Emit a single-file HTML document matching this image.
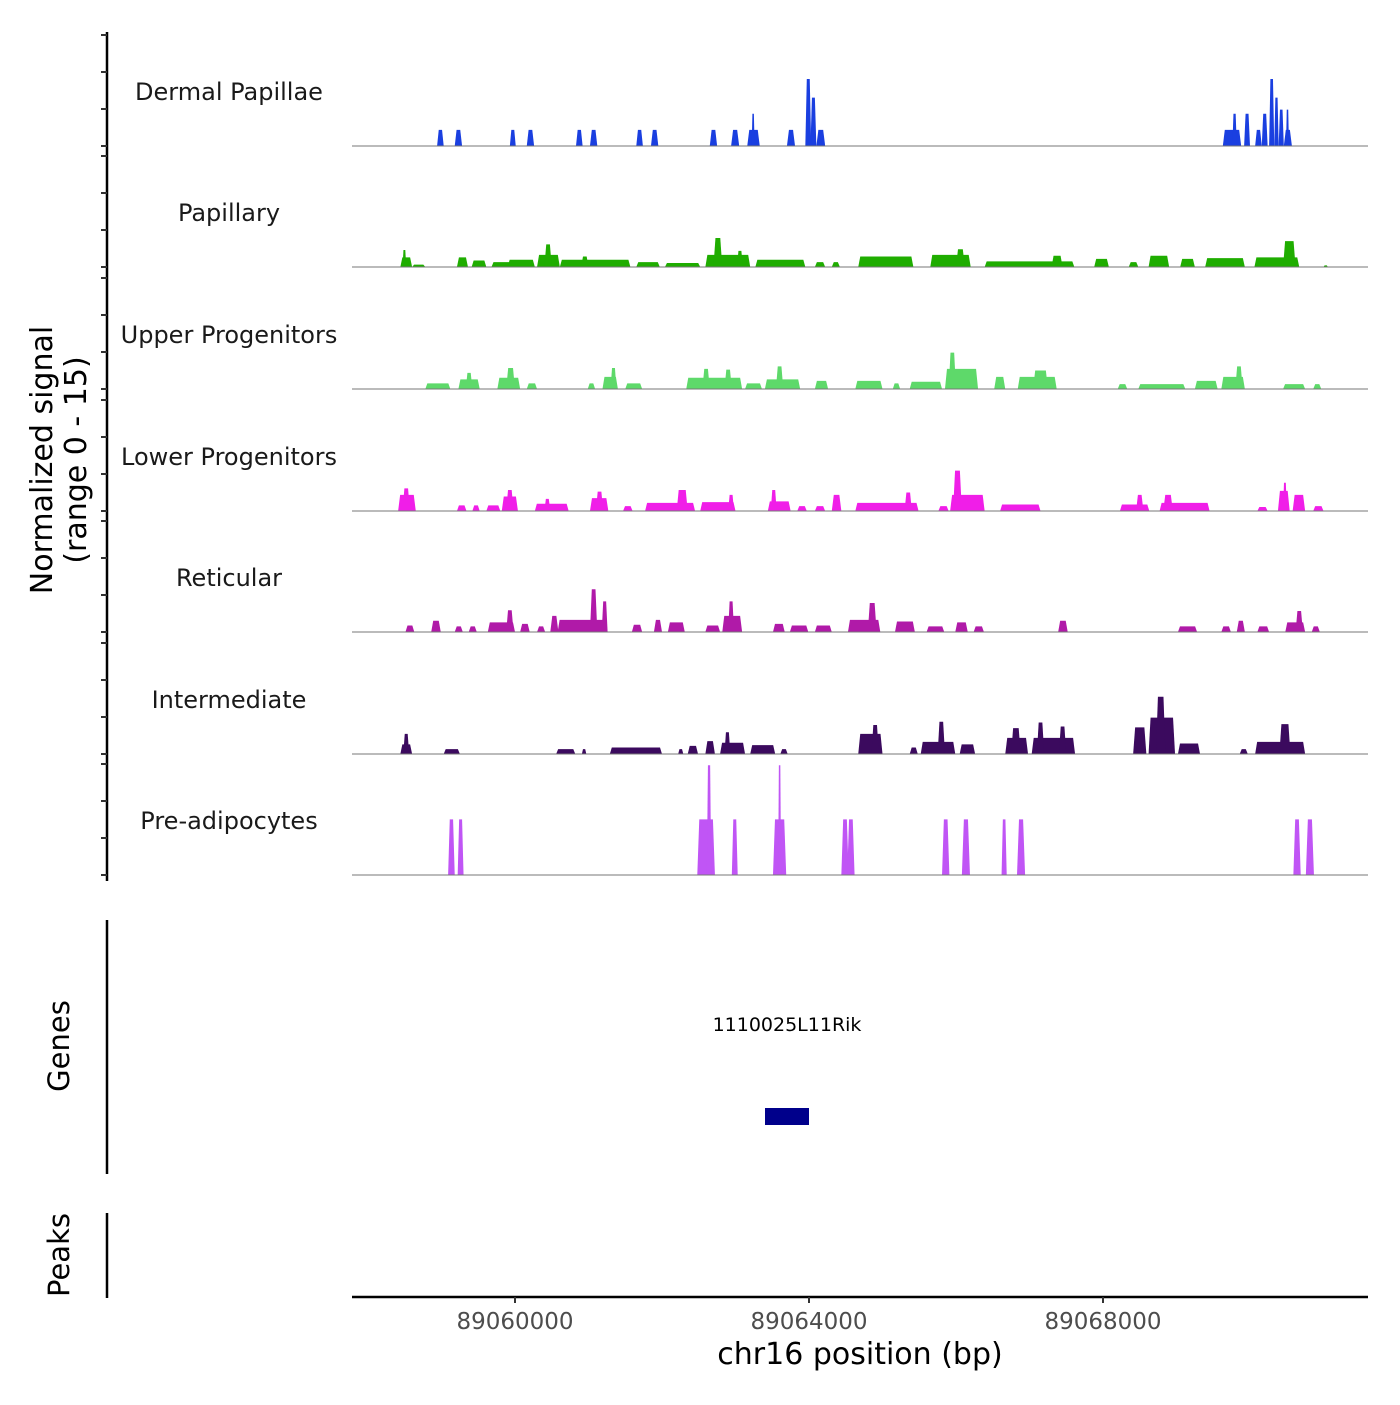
<!DOCTYPE html>
<html><head><meta charset="utf-8"><style>
html,body{margin:0;padding:0;background:#fff;}
svg text{font-family:"DejaVu Sans","Liberation Sans",sans-serif;}
</style></head><body>
<svg id="chart" width="1400" height="1400" viewBox="0 0 1400 1400" xmlns="http://www.w3.org/2000/svg"></svg>
<script>
const trackNames=["Dermal Papillae","Papillary","Upper Progenitors","Lower Progenitors","Reticular","Intermediate","Pre-adipocytes"];
const trackColors=["#1a3fe0","#1fad00","#5ed96a","#f01ee8","#b01aa8","#3b0a5e","#c055f5"];
const xTicks=[60,64,68];
const xTickLabels=["89060000","89064000","89068000"];
// segments per track: start kb, end kb (offset from 89,000,000 bp /1000), height (normalized signal)
const dermalStart=[58.94,59.18,59.93,60.16,60.83,61.02,61.65,61.85,62.65,62.94,63.16,63.22,63.70,63.95,64.02,64.10,69.63,69.76,69.92,70.07,70.16,70.26,70.33,70.39,70.46,70.49];
const dermalEnd=[59.03,59.28,60.01,60.26,60.92,61.12,61.74,61.95,62.75,63.05,63.33,63.26,63.81,64.03,64.10,64.22,69.88,69.82,70.00,70.16,70.24,70.33,70.39,70.46,70.57,70.53];
const dermalVal=[2,2,2,2,2,2,2,2,2,2,2,4,2,8.3,6,2,2,4,4,2,4,8.3,6,4.5,2,4.5];
const papStart=[58.44,58.47,58.60,59.21,59.41,59.68,59.99,59.90,60.30,60.40,60.61,60.90,61.65,62.04,62.59,62.70,63.02,63.27,64.08,64.31,64.67,65.65,66.0,66.39,67.30,67.88,68.35,68.62,69.05,69.39,70.06,70.45,71.0];
const papEnd=[58.60,58.52,58.78,59.36,59.61,59.95,60.14,60.27,60.61,60.50,61.57,61.00,61.97,62.52,63.20,62.82,63.10,63.95,64.22,64.42,65.42,66.20,66.12,67.61,67.45,68.08,68.48,68.90,69.25,69.93,70.67,70.62,71.06];
const papVal=[1.2,2.1,0.3,1.2,0.8,0.6,0.5,0.9,1.5,2.8,0.9,1.3,0.6,0.5,1.5,3.6,2,0.9,0.6,0.6,1.3,1.5,2.2,0.7,1.4,1.0,0.6,1.4,1,1.1,1.2,3.2,0.2];
const upStart=[58.78,59.23,59.33,59.76,59.88,60.16,60.99,61.19,61.30,61.50,62.33,62.55,62.85,63.13,63.40,63.55,64.08,64.63,65.14,65.37,65.85,65.90,66.52,66.84,67.05,68.20,68.48,69.25,69.61,69.80,70.45,70.86];
const upEnd=[59.12,59.52,59.42,60.07,60.00,60.30,61.09,61.40,61.38,61.73,63.09,62.65,62.95,63.36,63.88,63.65,64.26,65.00,65.24,65.81,66.30,66.00,66.67,67.37,67.25,68.33,69.12,69.56,69.93,69.90,70.75,70.97];
const upVal=[0.7,1.2,2,1.4,2.6,0.7,0.7,1.5,2.6,0.7,1.4,2.5,2.4,0.7,1.2,2.8,1.0,1.0,0.7,0.9,2.5,4.5,1.5,1.5,2.3,0.6,0.6,1.0,1.5,2.8,0.6,0.6];
const lowStart=[58.41,58.47,59.21,59.42,59.61,59.82,59.88,60.27,60.40,61.02,61.10,61.47,61.77,62.20,62.52,62.90,63.44,63.48,63.84,64.08,64.31,64.63,65.30,65.76,65.92,65.96,66.60,68.23,68.45,68.77,68.82,70.10,70.38,70.45,70.58,70.86];
const lowEnd=[58.65,58.57,59.34,59.52,59.80,60.04,59.98,60.73,60.48,61.27,61.20,61.60,62.45,62.35,63.00,62.98,63.75,63.56,63.97,64.22,64.44,65.49,65.40,65.90,66.39,66.08,67.15,68.63,68.55,69.45,68.95,70.24,70.54,70.50,70.75,71.0];
const lowVal=[2,2.8,0.7,0.7,0.7,1.8,2.6,0.9,1.5,1.6,2.4,0.6,1,2.6,1.1,2,1.2,2.6,0.6,0.6,2,1.0,2.3,0.6,2,5,0.8,0.8,2,1,2,0.5,2.5,3.5,2,0.6];
const retStart=[58.51,58.86,59.18,59.37,59.63,59.88,60.07,60.30,60.48,60.58,61.02,61.18,61.59,61.89,62.08,62.59,62.82,62.90,63.51,63.74,64.08,64.53,64.80,65.17,65.60,65.99,66.24,67.39,69.02,69.61,69.82,70.10,70.48,70.62,70.84];
const retEnd=[58.63,58.99,59.29,59.48,60.00,59.98,60.20,60.41,60.59,61.22,61.12,61.26,61.73,62.00,62.31,62.79,63.09,62.98,63.67,63.99,64.31,64.97,64.92,65.44,65.84,66.16,66.38,67.52,69.28,69.74,69.93,70.26,70.75,70.72,70.95];
const retVal=[0.8,1.4,0.7,0.7,1.2,2.7,1.0,0.7,2,1.5,5.3,3.8,0.9,1.5,1.2,0.8,2,3.8,1,0.8,0.8,1.5,3.6,1.3,0.7,1.2,0.7,1.4,0.7,0.7,1.4,0.7,1.2,2.6,0.7];
const intStart=[58.44,58.48,59.03,60.56,60.91,61.29,62.22,62.35,62.59,62.79,62.85,63.20,63.61,64.67,64.85,65.37,65.52,65.75,66.05,66.67,66.75,67.03,67.10,67.40,68.41,68.62,68.72,69.02,69.86,70.07,70.40];
const intEnd=[58.60,58.56,59.25,60.82,60.97,62.00,62.29,62.49,62.72,63.13,62.93,63.54,63.71,65.00,64.95,65.48,65.99,65.85,66.26,66.98,66.88,67.62,67.20,67.50,68.59,68.98,68.85,69.32,69.97,70.75,70.55];
const intVal=[1.2,2.5,0.6,0.6,0.6,0.8,0.6,1,1.6,1.4,2.7,1.1,0.6,2.5,3.6,0.8,1.5,4,1.2,2,3.2,2,3.9,3.4,3.3,4.5,7.1,1.3,0.6,1.5,3.7];
const preStart=[59.09,59.22,62.48,62.61,62.95,63.51,63.58,64.44,64.52,65.81,66.08,66.62,66.83,70.59,70.76];
const preEnd=[59.18,59.30,62.72,62.67,63.03,63.69,63.62,64.54,64.62,65.91,66.19,66.69,66.94,70.69,70.87];
const preVal=[6.9,6.9,6.9,13.6,6.9,6.9,13.6,6.9,6.9,6.9,6.9,6.9,6.9,6.9,6.9];
const starts=[dermalStart,papStart,upStart,lowStart,retStart,intStart,preStart];
const ends=[dermalEnd,papEnd,upEnd,lowEnd,retEnd,intEnd,preEnd];
const vals=[dermalVal,papVal,upVal,lowVal,retVal,intVal,preVal];

const NS="http://www.w3.org/2000/svg";
const svg=document.getElementById('chart');
const baselines=[146,267,389,511,632,754,875];
const plotL=352,plotR=1368;
function xScale(kb){return 515+(kb-60)*73.5;}
function yScale(i,v){return baselines[i]-v*8.07;}
function mk(tag,attrs,parent){const e=document.createElementNS(NS,tag);for(const k in attrs)e.setAttribute(k,attrs[k]);(parent||svg).appendChild(e);return e;}

let ax=mk('line',{x1:107,y1:32,x2:107,y2:881,stroke:'#000','stroke-width':2.5});


for(let i=0;i<7;i++){
  for(let t=0;t<=15;t+=5){
    const y=baselines[i]-t*7.4;
    const tk=mk('line',{x1:101,y1:y,x2:107,y2:y,stroke:'#333','stroke-width':2});
    
    
  }
}
for(let i=0;i<7;i++){
  const g=mk('g',{});
  
  
  const lab=mk('text',{x:229,y:baselines[i]-46,'text-anchor':'middle','font-size':24,fill:'#1a1a1a'},g);
  lab.textContent=trackNames[i];
  
  
  const S=starts[i],E=ends[i],V=vals[i];
  for(let j=0;j<S.length;j++){
    const x0=xScale(S[j]),x1=xScale(E[j]),y=yScale(i,V[j]),b=baselines[i];
    const s=Math.min(2,(x1-x0)/4);
    const p=mk('polygon',{points:`${x0},${b} ${x0+s},${y} ${x1-s},${y} ${x1},${b}`,fill:trackColors[i]},g);
    
    
  }
  const bl=mk('line',{x1:plotL,y1:baselines[i],x2:plotR,y2:baselines[i],stroke:'#777','stroke-width':1},g);
  
  
}
const yt=mk('text',{transform:'translate(52,460) rotate(-90)','text-anchor':'middle','font-size':30,fill:'#000'});


yt.innerHTML='<tspan x="0" dy="0">Normalized signal</tspan><tspan x="0" dy="34">(range 0 - 15)</tspan>';

let gl=mk('line',{x1:107,y1:920,x2:107,y2:1174,stroke:'#000','stroke-width':2.5});


const gt=mk('text',{transform:'translate(69,1046) rotate(-90)','text-anchor':'middle','font-size':29,fill:'#000'});
gt.textContent='Genes';


const gn=mk('text',{x:787,y:1031,'text-anchor':'middle','font-size':19,fill:'#000'});
gn.textContent='1110025L11Rik';


const gb=mk('rect',{x:765,y:1108,width:44,height:17,fill:'#00008b'});



let pl=mk('line',{x1:107,y1:1213,x2:107,y2:1298,stroke:'#000','stroke-width':2.5});


const pt=mk('text',{transform:'translate(69,1255) rotate(-90)','text-anchor':'middle','font-size':29,fill:'#000'});
pt.textContent='Peaks';



let xa=mk('line',{x1:plotL,y1:1297,x2:plotR,y2:1297,stroke:'#000','stroke-width':2.5});


xTicks.forEach((t,k)=>{
  const x=xScale(t);
  const tk=mk('line',{x1:x,y1:1297,x2:x,y2:1303,stroke:'#333','stroke-width':2});
  
  
  const tl=mk('text',{x:x,y:1329,'text-anchor':'middle','font-size':23,fill:'#4d4d4d'});
  tl.textContent=xTickLabels[k];
  
  
});
const xt=mk('text',{x:860,y:1364,'text-anchor':'middle','font-size':30,fill:'#000'});
xt.textContent='chr16 position (bp)';


</script>
</body></html>
